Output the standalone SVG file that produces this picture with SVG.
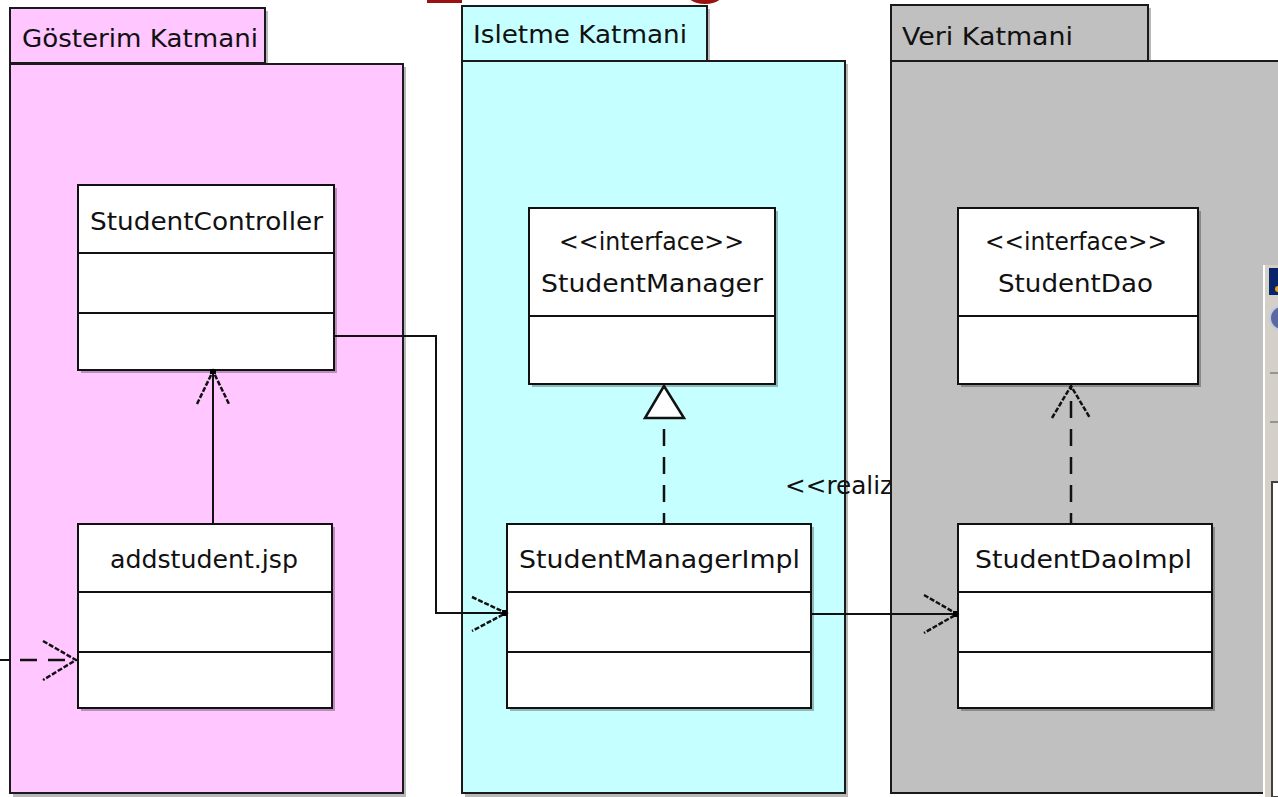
<svg xmlns="http://www.w3.org/2000/svg" width="1278" height="797" viewBox="0 0 1278 797">
<defs>
<style>
text{font-family:"DejaVu Sans","Liberation Sans",sans-serif;font-size:24px;fill:#111}
.pk{stroke:#1a1a1a;stroke-width:2}
.cls{fill:#fff;stroke:#111;stroke-width:2}
.sep{stroke:#111;stroke-width:2}
.sh{fill:#000;opacity:0.28}
.ln{fill:none;stroke:#111;stroke-width:2}
.dash{fill:none;stroke:#111;stroke-width:2.5;stroke-dasharray:17 11}
.ah{fill:none;stroke:#111;stroke-width:2.5;stroke-dasharray:5 1.8}
.tip{fill:#000}
</style>
</defs>
<rect width="1278" height="797" fill="#fff"/>
<!-- slide title fragments -->
<rect x="427" y="0" width="35" height="3" fill="#9b1111"/>
<ellipse cx="705" cy="-14" rx="23" ry="18" fill="#9b1111"/>

<g id="pkg-gosterim">
<rect class="sh" x="13" y="11" width="255" height="55"/>
<rect class="sh" x="13" y="67" width="393" height="730"/>
<rect class="pk" x="10" y="8" width="255" height="55" fill="#ffc6ff"/>
<rect class="pk" x="10" y="64" width="393" height="729" fill="#ffc6ff"/>
<text x="22" y="47" textLength="236" lengthAdjust="spacingAndGlyphs">Gösterim Katmani</text>
</g>

<g id="pkg-isletme">
<rect class="sh" x="465" y="9" width="245" height="55"/>
<rect class="sh" x="465" y="64" width="383" height="733"/>
<rect class="pk" x="462" y="6" width="245" height="55" fill="#c6ffff"/>
<rect class="pk" x="462" y="61" width="383" height="732" fill="#c6ffff"/>
<text x="473" y="43" textLength="214" lengthAdjust="spacingAndGlyphs">Isletme Katmani</text>
</g>

<text x="785" y="494" textLength="108" lengthAdjust="spacingAndGlyphs">&lt;&lt;realiz</text>

<g id="pkg-veri">
<rect class="sh" x="894" y="8" width="257" height="56"/>
<rect class="pk" x="891" y="5" width="257" height="56" fill="#c0c0c0"/>
<rect class="pk" x="891" y="61" width="400" height="732" fill="#c0c0c0"/>
<text x="902" y="45" textLength="171" lengthAdjust="spacingAndGlyphs">Veri Katmani</text>
</g>

<g id="StudentController">
<rect class="sh" x="81" y="188" width="256" height="185"/>
<rect class="cls" x="78" y="185" width="256" height="185"/>
<line class="sep" x1="78" y1="253" x2="334" y2="253"/>
<line class="sep" x1="78" y1="313" x2="334" y2="313"/>
<text x="90" y="230" textLength="233" lengthAdjust="spacingAndGlyphs">StudentController</text>
</g>

<g id="addstudent">
<rect class="sh" x="81" y="527" width="254" height="184"/>
<rect class="cls" x="78" y="524" width="254" height="184"/>
<line class="sep" x1="78" y1="592" x2="332" y2="592"/>
<line class="sep" x1="78" y1="652" x2="332" y2="652"/>
<text x="110" y="568" textLength="188" lengthAdjust="spacingAndGlyphs">addstudent.jsp</text>
</g>

<g id="StudentManager">
<rect class="sh" x="532" y="211" width="246" height="176"/>
<rect class="cls" x="529" y="208" width="246" height="176"/>
<line class="sep" x1="529" y1="316" x2="775" y2="316"/>
<text x="559" y="250" textLength="185" lengthAdjust="spacingAndGlyphs">&lt;&lt;interface&gt;&gt;</text>
<text x="541" y="292" textLength="222" lengthAdjust="spacingAndGlyphs">StudentManager</text>
</g>

<g id="StudentManagerImpl">
<rect class="sh" x="510" y="527" width="304" height="184"/>
<rect class="cls" x="507" y="524" width="304" height="184"/>
<line class="sep" x1="507" y1="592" x2="811" y2="592"/>
<line class="sep" x1="507" y1="652" x2="811" y2="652"/>
<text x="519" y="568" textLength="281" lengthAdjust="spacingAndGlyphs">StudentManagerImpl</text>
</g>

<g id="StudentDao">
<rect class="sh" x="961" y="211" width="240" height="176"/>
<rect class="cls" x="958" y="208" width="240" height="176"/>
<line class="sep" x1="958" y1="316" x2="1198" y2="316"/>
<text x="985" y="250" textLength="182" lengthAdjust="spacingAndGlyphs">&lt;&lt;interface&gt;&gt;</text>
<text x="998" y="292" textLength="155" lengthAdjust="spacingAndGlyphs">StudentDao</text>
</g>

<g id="StudentDaoImpl">
<rect class="sh" x="961" y="527" width="254" height="184"/>
<rect class="cls" x="958" y="524" width="254" height="184"/>
<line class="sep" x1="958" y1="592" x2="1212" y2="592"/>
<line class="sep" x1="958" y1="652" x2="1212" y2="652"/>
<text x="975" y="568" textLength="217" lengthAdjust="spacingAndGlyphs">StudentDaoImpl</text>
</g>

<g id="connectors">
<!-- addstudent -> StudentController -->
<line class="ln" x1="213" y1="524" x2="213" y2="371"/>
<path class="ah" d="M197,404 L213,371 L229,404"/>
<rect class="tip" x="210" y="369" width="6" height="5"/>
<!-- StudentController -> StudentManagerImpl -->
<path class="ln" d="M334,336 H436 V613 H506"/>
<path class="ah" d="M472,597 L506,613 L472,631"/>
<rect class="tip" x="502" y="610" width="5" height="6"/>
<!-- realization StudentManagerImpl -> StudentManager -->
<line class="dash" x1="664" y1="524" x2="664" y2="418" stroke-dashoffset="6"/>
<polygon points="664,386 645,418 684,418" fill="#fff" stroke="#111" stroke-width="2.5"/>
<!-- StudentManagerImpl -> StudentDaoImpl -->
<line class="ln" x1="811" y1="614" x2="957" y2="614"/>
<path class="ah" d="M924,595 L957,614 L924,633"/>
<rect class="tip" x="953" y="611" width="5" height="6"/>
<!-- StudentDaoImpl -> StudentDao -->
<line class="dash" x1="1071" y1="524" x2="1071" y2="386" stroke-dashoffset="6"/>
<path class="ah" d="M1052,418 L1071,386 L1090,418"/>
<!-- left incoming dashed -->
<line class="ln" x1="0" y1="660" x2="10" y2="660"/>
<line class="dash" x1="20" y1="660" x2="76" y2="660"/>
<path class="ah" d="M43,641 L76,660 L43,680"/>
</g>

<!-- window fragment at right edge -->
<rect x="1263" y="265" width="20" height="532" fill="#d4d0c8"/>
<line x1="1264" y1="265" x2="1264" y2="797" stroke="#fff" stroke-width="2"/>
<rect x="1269" y="268" width="12" height="27" fill="#0a246a"/>
<circle cx="1278" cy="289" r="3" fill="#e8a020"/>
<circle cx="1282" cy="318" r="12" fill="#5a6aa0" stroke="#c0c8e0" stroke-width="2"/>
<line x1="1270" y1="373" x2="1278" y2="373" stroke="#808080" stroke-width="1.5"/>
<line x1="1270" y1="422" x2="1278" y2="422" stroke="#808080" stroke-width="1.5"/>
<rect x="1272" y="482" width="10" height="315" fill="#fff" stroke="#404040" stroke-width="2"/>
</svg>
